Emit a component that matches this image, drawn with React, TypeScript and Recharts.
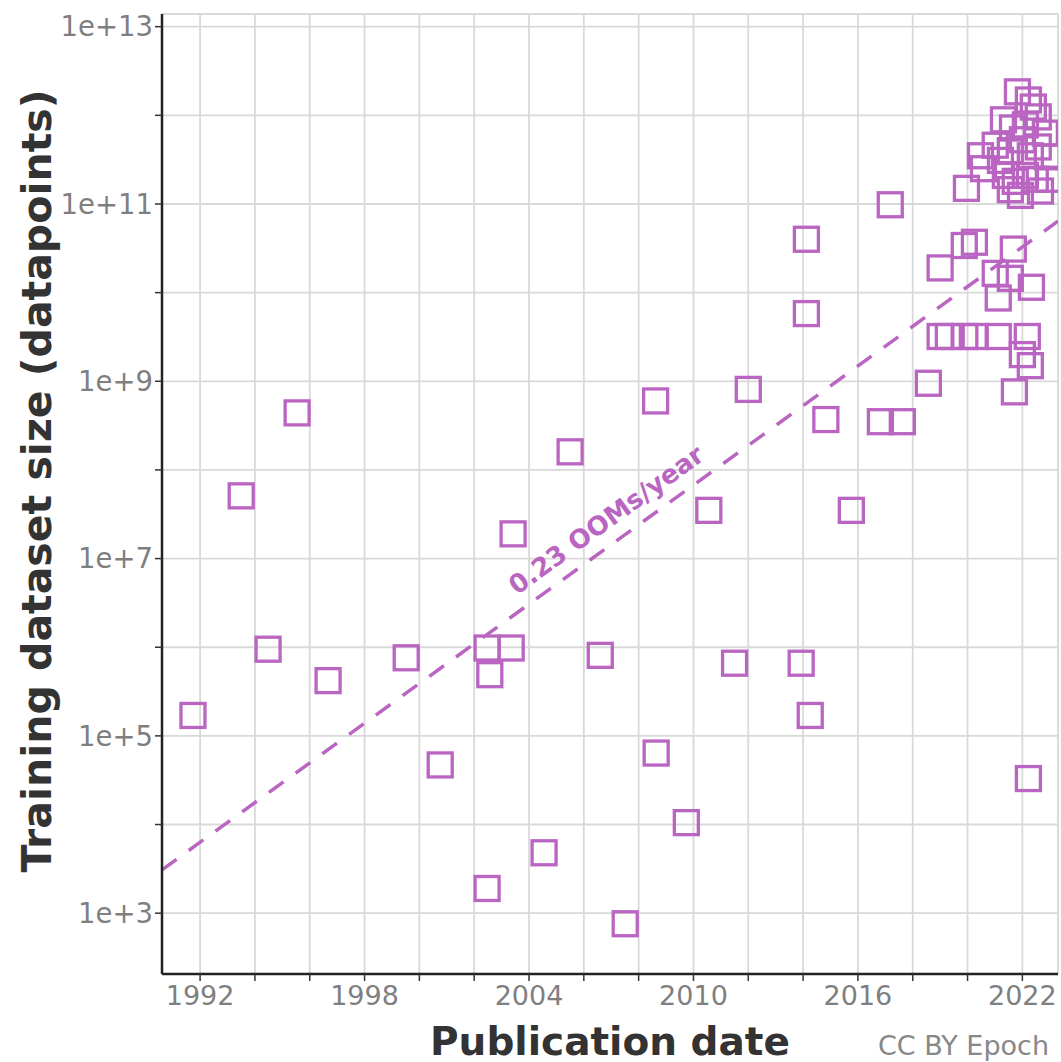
import React from 'react';
import { ScatterChart, Scatter, XAxis, YAxis, CartesianGrid, ReferenceLine } from 'recharts';

// publication year (decimal) and training dataset size
const YEARS = [
  1991.74, 1993.5, 1994.48, 1995.54, 1996.67, 1999.52, 2000.76, 2002.47, 2002.57, 2003.35,
  2002.47, 2003.42, 2004.55, 2005.5, 2006.6, 2007.51, 2008.62, 2008.64, 2009.74, 2010.56,
  2011.5, 2012.0, 2013.93, 2014.12, 2014.12, 2014.26, 2014.83, 2015.76, 2016.82, 2017.62,
  2017.18, 2018.57, 2019.0, 2019.88, 2020.25, 2021.67, 2021.01, 2021.56, 2021.12, 2022.33,
  2019.0, 2019.3, 2019.9, 2020.28, 2021.12, 2022.18, 2022.0, 2022.29, 2021.71, 2022.22,
  2021.82, 2022.22, 2022.4, 2021.31, 2021.64, 2022.11, 2022.58, 2022.84, 2022.91, 2022.58,
  2021.01, 2021.56, 2022.0, 2022.29, 2020.47, 2020.58, 2021.2, 2021.38, 2021.74, 2022.11,
  2022.47, 2022.66, 2021.93, 2021.56, 2019.96, 2022.95,
];
const SIZES = [
  1.7e5, 5.1e7, 9.5e5, 4.4e8, 4.2e5, 7.6e5, 4.7e4, 9.8e5, 4.9e5, 9.8e5,
  1.9e3, 1.9e7, 4.8e3, 1.6e8, 8.1e5, 7.6e2, 6.0e8, 6.4e4, 1.05e4, 3.5e7,
  6.6e5, 8.1e8, 6.6e5, 4.0e10, 5.8e9, 1.7e5, 3.7e8, 3.5e7, 3.5e8, 3.5e8,
  9.8e10, 9.5e8, 1.9e10, 3.4e10, 3.7e10, 3.1e10, 1.65e10, 1.45e10, 8.7e9, 1.15e10,
  3.2e9, 3.2e9, 3.2e9, 3.2e9, 3.2e9, 3.2e9, 2.0e9, 1.5e9, 7.6e8, 3.3e4,
  1.84e12, 1.49e12, 1.24e12, 8.9e11, 7.2e11, 7.8e11, 9.6e11, 6.3e11, 3.4e11, 4.4e11,
  4.6e11, 4.0e11, 5.3e11, 3.5e11, 3.5e11, 2.5e11, 3.1e11, 2.1e11, 1.8e11, 2.1e11,
  1.9e11, 1.4e11, 1.25e11, 1.45e11, 1.5e11, 1.9e11,
];

// fitted trend, 0.23 OOMs/year
const TREND_YEARS = [1990.61, 2023.3];
const TREND_SIZES = [3.08e3, 6.4e10];
const TREND_LABEL = '0.23 OOMs/year';

const X_TICKS = [1992, 1994, 1996, 1998, 2000, 2002, 2004, 2006, 2008, 2010, 2012, 2014, 2016, 2018, 2020, 2022];
const Y_TICKS = [1e3, 1e4, 1e5, 1e6, 1e7, 1e8, 1e9, 1e10, 1e11, 1e12, 1e13];

const PURPLE = '#b965c1';
const FONT = 'DejaVu Sans';

const data = YEARS.map((year, i) => ({ year, size: SIZES[i] }));

const SquareMarker = (props: any) => {
  const { cx, cy } = props;
  if (cx == null || cy == null) return null;
  return <rect x={cx - 12} y={cy - 12} width={24} height={24} fill="none" stroke={PURPLE} strokeWidth={3.3} />;
};

const TrendLabel = (props: any) => {
  const { x, y, width, height } = props.viewBox;
  const cx = x + width / 2;
  const cy = y + height / 2;
  const angle = (-Math.atan2(height, width) * 180) / Math.PI;
  return (
    <text
      x={cx}
      y={cy}
      dx={12}
      dy={-14}
      transform={`rotate(${angle}, ${cx}, ${cy})`}
      textAnchor="middle"
      fill={PURPLE}
      fontFamily={FONT}
      fontWeight="bold"
      fontSize={26}
    >
      {TREND_LABEL}
    </text>
  );
};

const App = () => {
  return (
    <div style={{ position: 'absolute', left: 0, top: 0, width: 1061, height: 1062, background: '#fff' }}>
      <ScatterChart width={1061} height={1062} margin={{ top: 14, right: 3, left: 0, bottom: 0 }}>
        <CartesianGrid stroke="#d9d9d9" strokeWidth={1.8} />
        <XAxis
          type="number"
          dataKey="year"
          domain={[1990.61, 2023.3]}
          allowDataOverflow
          ticks={X_TICKS}
          interval={0}
          tickFormatter={(v: number) => ((v - 1992) % 6 === 0 ? String(v) : '')}
          height={88}
          tickSize={7}
          tickMargin={5}
          tick={{ fill: '#7f7f7f', fontSize: 27, fontFamily: FONT }}
          tickLine={{ stroke: '#333', strokeWidth: 1.5 }}
          axisLine={{ stroke: '#222', strokeWidth: 2.5 }}
        />
        <YAxis
          type="number"
          dataKey="size"
          scale="log"
          domain={[206, 1.39e13]}
          allowDataOverflow
          ticks={Y_TICKS}
          interval={0}
          tickFormatter={(v: number) => {
            const e = Math.round(Math.log10(v));
            return e % 2 === 1 ? `1e+${e}` : '';
          }}
          width={162}
          tickSize={7}
          tickMargin={2}
          tick={{ fill: '#7f7f7f', fontSize: 27.5, fontFamily: FONT }}
          tickLine={{ stroke: '#333', strokeWidth: 1.5 }}
          axisLine={{ stroke: '#222', strokeWidth: 2.5 }}
        />
        <ReferenceLine
          segment={[
            { x: TREND_YEARS[0], y: TREND_SIZES[0] },
            { x: TREND_YEARS[1], y: TREND_SIZES[1] },
          ]}
          stroke={PURPLE}
          strokeWidth={3.5}
          strokeDasharray="18 15"
          ifOverflow="hidden"
          label={<TrendLabel />}
        />
        <Scatter data={data} shape={<SquareMarker />} isAnimationActive={false} />
      </ScatterChart>
      <div
        style={{
          position: 'absolute',
          left: 37,
          top: 481,
          transform: 'translate(-50%, -50%) rotate(-90deg)',
          whiteSpace: 'nowrap',
          fontFamily: FONT,
          fontWeight: 'bold',
          fontSize: 41,
          color: '#333',
        }}
      >
        Training dataset size (datapoints)
      </div>
      <div
        style={{
          position: 'absolute',
          left: 610,
          top: 1041,
          transform: 'translate(-50%, -50%)',
          whiteSpace: 'nowrap',
          fontFamily: FONT,
          fontWeight: 'bold',
          fontSize: 39,
          color: '#333',
        }}
      >
        Publication date
      </div>
      <div
        style={{
          position: 'absolute',
          right: 12,
          top: 1045,
          transform: 'translateY(-50%)',
          whiteSpace: 'nowrap',
          fontFamily: FONT,
          fontSize: 27,
          color: '#888',
        }}
      >
        CC BY Epoch
      </div>
    </div>
  );
};

export default App;
